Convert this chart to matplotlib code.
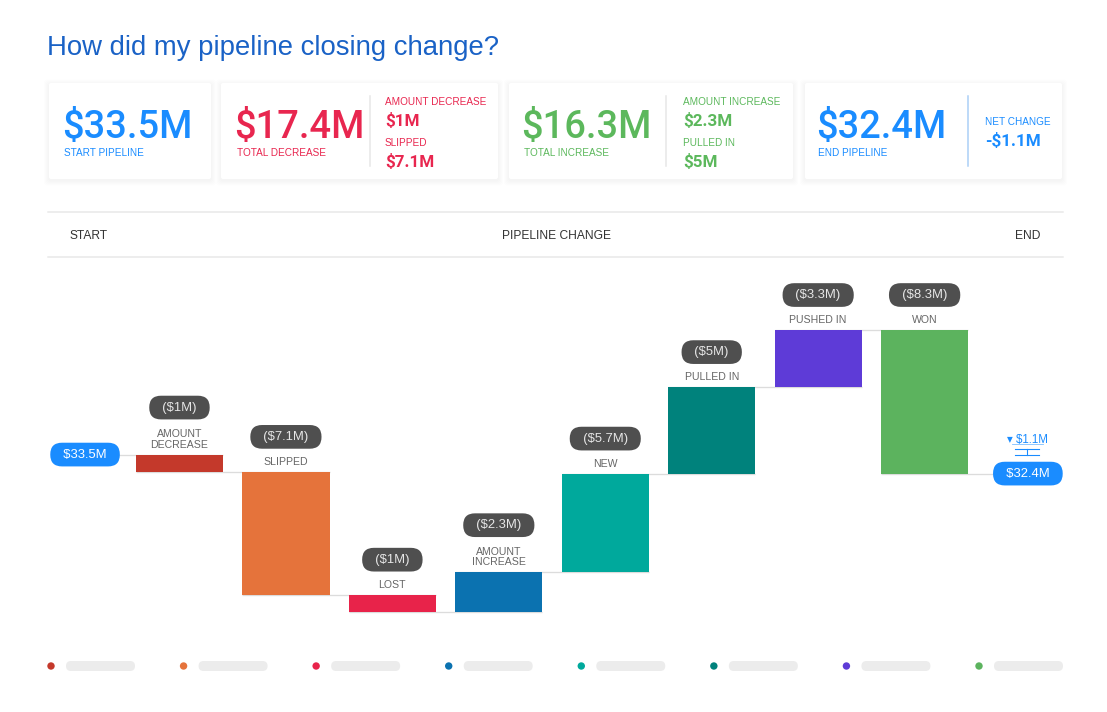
import matplotlib
matplotlib.use("Agg")
import matplotlib.pyplot as plt
from matplotlib.patches import FancyBboxPatch, Rectangle, Circle
import numpy as np

plt.rcParams['font.family'] = ['Liberation Sans', 'DejaVu Sans']

# ---------------- data ----------------
title = "How did my pipeline closing change?"
start_value = 33.5
categories = ["AMOUNT\nDECREASE", "SLIPPED", "LOST", "AMOUNT\nINCREASE",
              "NEW", "PULLED IN", "PUSHED IN", "WON"]
changes = [-1.0, -7.1, -1.0, 2.3, 5.7, 5.0, 3.3, -8.3]
bar_colors = ["#c4392b", "#e5733b", "#e8234a", "#0b72b0",
              "#00a99c", "#00827c", "#5e3bd7", "#5cb35e"]
header_labels = ["START", "PIPELINE CHANGE", "END"]
decrease_details = ["AMOUNT DECREASE", "SLIPPED"]
increase_details = ["AMOUNT INCREASE", "PULLED IN"]

# derived
levels = [start_value]
for c in changes:
    levels.append(round(levels[-1] + c, 1))
end_value = levels[-1]
net_change = round(end_value - start_value, 1)
total_decrease = round(-sum(c for c in changes if c < 0), 1)
total_increase = round(sum(c for c in changes if c > 0), 1)
change_map = dict(zip([c.replace("\n", " ") for c in categories], changes))


def money(v):
    return f"${abs(v):g}M"


BLUE = "#1a8cff"
RED = "#e8264f"
GREEN = "#5cb85c"

W, H = 1107, 712
fig = plt.figure(figsize=(W / 72, H / 72), dpi=72)
fig.patch.set_facecolor("white")
bg = fig.add_axes([0, 0, 1, 1])
bg.set_xlim(0, W)
bg.set_ylim(H, 0)
bg.axis("off")

# title
bg.text(47, 48, title, fontsize=27.5, color="#1a62c6", va="center", ha="left")

# cards
cards = [(49, 211), (221, 498), (509, 793), (805, 1062)]
cy0, cy1 = 83, 179
for x0, x1 in cards:
    for k in range(1, 6):
        bg.add_patch(FancyBboxPatch((x0 - k, cy0 - k + 1.5), x1 - x0 + 2 * k, cy1 - cy0 + 2 * k,
                                    boxstyle="round,pad=0,rounding_size=3",
                                    fc="black", ec="none", alpha=0.006, zorder=1))
    bg.add_patch(FancyBboxPatch((x0, cy0), x1 - x0, cy1 - cy0,
                                boxstyle="round,pad=0,rounding_size=2",
                                fc="white", ec="none", zorder=2))

big = dict(fontsize=38, family=["Roboto", "DejaVu Sans"], weight="medium", zorder=3)
sub_fs = 10
mid = dict(fontsize=17, family=["Roboto", "DejaVu Sans"], weight="bold", zorder=3)
# card 1
bg.text(62, 138, money(start_value), color=BLUE, **big)
bg.text(64, 156, "START PIPELINE", fontsize=sub_fs, color=BLUE, zorder=3)
# card 2
bg.text(234, 138, money(total_decrease), color=RED, **big)
bg.text(237, 156, "TOTAL DECREASE", fontsize=sub_fs, color=RED, zorder=3)
bg.plot([370, 370], [96, 166], color="#e6e6e6", lw=1.5, zorder=3)
for j, name in enumerate(decrease_details):
    bg.text(385, 105 + 41 * j, name, fontsize=sub_fs, color=RED, zorder=3)
    bg.text(385, 126 + 41 * j, money(change_map[name]), color=RED, **mid)
# card 3
bg.text(521, 138, money(total_increase), color=GREEN, **big)
bg.text(524, 156, "TOTAL INCREASE", fontsize=sub_fs, color=GREEN, zorder=3)
bg.plot([666, 666], [96, 166], color="#e6e6e6", lw=1.5, zorder=3)
for j, name in enumerate(increase_details):
    bg.text(683, 105 + 41 * j, name, fontsize=sub_fs, color=GREEN, zorder=3)
    bg.text(683, 126 + 41 * j, money(change_map[name]), color=GREEN, **mid)
# card 4
bg.text(816, 138, money(end_value), color=BLUE, **big)
bg.text(818, 156, "END PIPELINE", fontsize=sub_fs, color=BLUE, zorder=3)
bg.plot([968, 968], [96, 166], color="#a9cff7", lw=1.5, zorder=3)
bg.text(985, 125, "NET CHANGE", fontsize=sub_fs, color=BLUE, zorder=3)
bg.text(985, 146, ("-" if net_change < 0 else "+") + money(net_change), color=BLUE, **mid)

# header band
for yy in (212, 257):
    bg.plot([48, 1063], [yy, yy], color="#e8e8e8", lw=1.5)
bg.text(70, 236, header_labels[0], fontsize=12, color="#333333", va="center", ha="left")
bg.text(556, 236, header_labels[1], fontsize=12, color="#333333", va="center", ha="center")
bg.text(1040, 236, header_labels[2], fontsize=12, color="#333333", va="center", ha="right")

# ---------------- waterfall ----------------
ax = fig.add_axes([48 / W, (H - 640) / H, 1015 / W, 370 / H])
ax.set_xlim(-0.235, 9.30)
ax.set_ylim(22.78, 44.17)
ax.axis("off")
ax.patch.set_alpha(0)

bw = 0.82
xs = np.arange(1, len(changes) + 1)
bottoms = [min(levels[i], levels[i + 1]) for i in range(len(changes))]
heights = [abs(c) for c in changes]
ax.bar(xs, heights, bottom=bottoms, width=bw, color=bar_colors, zorder=3,
       edgecolor="none")

x_start, x_end = 0.113, 8.97
conn = dict(color="#dcdcdc", lw=1.3, zorder=1, solid_capstyle="butt")
ax.plot([x_start, xs[0] + bw / 2], [levels[0], levels[0]], **conn)
for i in range(len(changes)):
    nx = xs[i + 1] + bw / 2 if i + 1 < len(changes) else x_end
    ax.plot([xs[i] - bw / 2, nx], [levels[i + 1], levels[i + 1]], **conn)

for i, (cat, c) in enumerate(zip(categories, changes)):
    top = max(levels[i], levels[i + 1])
    nl = cat.count("\n") + 1
    ax.annotate(cat, xy=(xs[i], top), xytext=(0, 5), textcoords="offset points",
                ha="center", va="bottom", fontsize=10.5, color="#666666",
                linespacing=1.05, annotation_clip=False, zorder=5)
    ax.annotate("  " + f"({money(c)})" + "  ", xy=(xs[i], top),
                xytext=(0, 35 + 12 * (nl - 1)), textcoords="offset points",
                ha="center", va="center", fontsize=13, color="#e6e6e6",
                annotation_clip=False, zorder=5,
                bbox=dict(boxstyle="round,pad=0.45,rounding_size=0.9",
                          fc="#4f4f4f", ec="none"))

pill = dict(boxstyle="round,pad=0.45,rounding_size=0.9", fc=BLUE, ec="none")
ax.annotate("  " + money(start_value) + "  ", xy=(x_start, levels[0]), ha="center",
            va="center", fontsize=13, color="white", bbox=pill,
            annotation_clip=False, zorder=6)
ax.annotate("  " + money(end_value) + "  ", xy=(x_end, end_value), ha="center",
            va="center", fontsize=13, color="white", bbox=pill,
            annotation_clip=False, zorder=6)
ax.annotate("\u25BE " + money(net_change), xy=(x_end, end_value), xytext=(0, 34),
            textcoords="offset points", ha="center", va="center", fontsize=11.5,
            color=BLUE, annotation_clip=False, zorder=6)

# small bracket under net change label
bcol = BLUE
bg.plot([1012, 1043], [444, 444], color=bcol, lw=0.8, alpha=0.6)
bg.plot([1015, 1039], [449, 449], color=bcol, lw=1.1)
bg.plot([1015, 1039], [455, 455], color=bcol, lw=1.1)
bg.plot([1027, 1027], [449, 455], color=bcol, lw=1.1)

# ---------------- legend placeholders ----------------
lx = np.linspace(51, 979, len(bar_colors))
for cx, col in zip(lx, bar_colors):
    bg.add_patch(Circle((cx, 666), 3.7, fc=col, ec="none"))
    bg.add_patch(FancyBboxPatch((cx + 15, 661), 69, 10,
                                boxstyle="round,pad=0,rounding_size=5",
                                fc="#ececec", ec="none"))

fig.savefig("out.png", dpi=72, facecolor="white")
